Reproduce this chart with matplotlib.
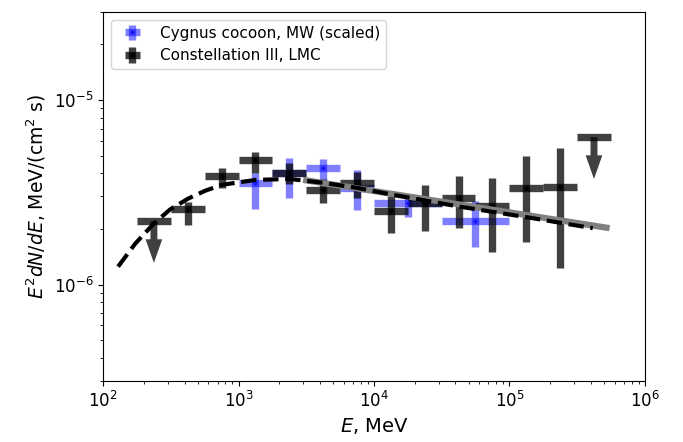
import numpy as np
import matplotlib.pyplot as plt

# Constellation III, LMC (log10 E bin edges are 0.25 dex wide)
lmc_logE = np.array([2.375, 2.625, 2.875, 3.125, 3.375, 3.625, 3.875,
                     4.125, 4.375, 4.625, 4.875, 5.125, 5.375, 5.625])
lmc_flux = np.array([2.20e-6, 2.58e-6, 3.87e-6, 4.72e-6, 4.02e-6, 3.26e-6, 3.56e-6,
                     2.49e-6, 2.75e-6, 2.96e-6, 2.68e-6, 3.34e-6, 3.38e-6, 6.27e-6])
lmc_hi = np.array([2.20e-6, 2.81e-6, 4.28e-6, 5.21e-6, 4.55e-6, 3.73e-6, 4.07e-6,
                   3.03e-6, 3.47e-6, 3.87e-6, 3.78e-6, 4.95e-6, 5.47e-6, 6.27e-6])
lmc_lo = np.array([2.20e-6, 2.09e-6, 3.34e-6, 4.02e-6, 3.51e-6, 2.75e-6, 2.96e-6,
                   1.90e-6, 1.95e-6, 2.02e-6, 1.50e-6, 1.70e-6, 1.23e-6, 6.27e-6])
lmc_ul = np.array([True] + [False] * 12 + [True])

# Cygnus cocoon, MW (scaled)
cyg_lo_edge = np.array([3.0, 3.25, 3.5, 3.75, 4.0, 4.5])
cyg_hi_edge = np.array([3.25, 3.5, 3.75, 4.0, 4.5, 5.0])
cyg_flux = np.array([3.56e-6, 4.02e-6, 4.28e-6, 3.34e-6, 2.75e-6, 2.20e-6])
cyg_hi = np.array([4.02e-6, 4.83e-6, 4.78e-6, 4.17e-6, 3.03e-6, 2.85e-6])
cyg_lo = np.array([2.58e-6, 2.96e-6, 3.65e-6, 2.52e-6, 2.31e-6, 1.60e-6])

# power-law fit (gray) and model curve (dashed)
pl_E = [3.0e3, 5.5e5]
pl_flux = [3.69e-6, 2.02e-6]
model_E = [129, 172, 234, 312, 424, 566, 755, 1345, 2400, 4210, 7500,
           13600, 43200, 137000, 413000]
model_flux = [1.25e-6, 1.66e-6, 2.12e-6, 2.55e-6, 2.92e-6, 3.22e-6, 3.47e-6,
              3.69e-6, 3.73e-6, 3.56e-6, 3.34e-6, 3.07e-6, 2.64e-6, 2.31e-6, 2.02e-6]

fig = plt.figure(figsize=(6.83, 4.42), dpi=100)
ax = fig.add_axes([0.151, 0.138, 0.793, 0.835])

dark = (0.0, 0.0, 0.0, 0.75)
blue = (0.0, 0.0, 1.0, 0.5)

# Cygnus
cyg_E = 10 ** ((cyg_lo_edge + cyg_hi_edge) / 2)
ax.errorbar(cyg_E, cyg_flux,
            xerr=[cyg_E - 10 ** cyg_lo_edge, 10 ** cyg_hi_edge - cyg_E],
            yerr=[cyg_flux - cyg_lo, cyg_hi - cyg_flux],
            fmt='o', ms=2, color=blue, elinewidth=5.3, capsize=0,
            label='Cygnus cocoon, MW (scaled)')

# LMC detections
E = 10 ** lmc_logE
det = ~lmc_ul
ax.errorbar(E[det], lmc_flux[det],
            xerr=[E[det] - 10 ** (lmc_logE[det] - 0.125), 10 ** (lmc_logE[det] + 0.125) - E[det]],
            yerr=[lmc_flux[det] - lmc_lo[det], lmc_hi[det] - lmc_flux[det]],
            fmt='o', ms=2.5, mfc='k', mec=dark, color=dark, elinewidth=5.3, capsize=0,
            label='Constellation III, LMC')

# LMC upper limits
ax.errorbar(E[lmc_ul], lmc_flux[lmc_ul],
            xerr=[E[lmc_ul] - 10 ** (lmc_logE[lmc_ul] - 0.125), 10 ** (lmc_logE[lmc_ul] + 0.125) - E[lmc_ul]],
            fmt='none', color=dark, elinewidth=5.3, capsize=0)
for e, f in zip(E[lmc_ul], lmc_flux[lmc_ul]):
    ax.annotate('', xy=(e, f / 1.68), xytext=(e, f),
                arrowprops=dict(width=5.0, headwidth=12, headlength=17, shrink=0,
                                facecolor=dark, edgecolor='none'))

ax.plot(pl_E, pl_flux, color='gray', lw=4.5, solid_capstyle='butt', zorder=3)
ax.plot(model_E, model_flux, 'k--', lw=3, zorder=4)

ax.set_xscale('log')
ax.set_yscale('log')
ax.set_xlim(1e2, 1e6)
ax.set_ylim(3e-7, 3e-5)
ax.tick_params(labelsize=12)
ax.set_xlabel('$E$, MeV', fontsize=14)
ax.set_ylabel('$E^2dN/dE$, MeV/(cm$^2$ s)', fontsize=13.5)
ax.legend(loc='upper left', fontsize=11)

fig.savefig('out.png', dpi=100)
